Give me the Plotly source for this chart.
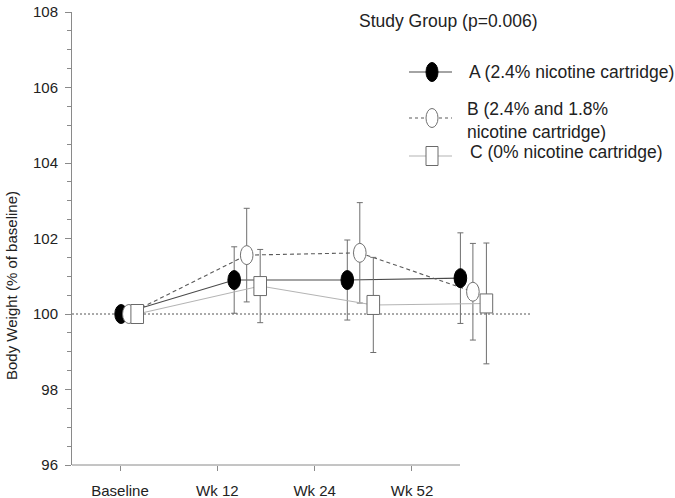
import numpy as np
import plotly.graph_objects as go

# ---------------- data ----------------
timepoints = ["Baseline", "Wk 12", "Wk 24", "Wk 52"]
groups = ["A (2.4% nicotine cartridge)", "B (2.4% and 1.8%<br>nicotine cartridge)", "C (0% nicotine cartridge)"]
mean_A = [100.0, 100.90, 100.90, 100.95]
mean_B = [100.0, 101.56, 101.62, 100.59]
mean_C = [100.0, 100.74, 100.24, 100.28]
err_A = [0.0, 0.88, 1.06, 1.20]
err_B = [0.0, 1.24, 1.33, 1.28]
err_C = [0.0, 0.97, 1.26, 1.60]
legend_title = "Study Group (p=0.006)"
y_title = "Body Weight (% of baseline)"
y_ticks = [96, 98, 100, 102, 104, 106, 108]

# ---------------- layout geometry (page pixels) ----------------
W, H = 675, 498
L, R, T, B = 72, 545, 12, 465            # plot area edges
PX_PER_STEP = 113.1                      # data spacing between timepoints
X0_PX = 121.1                            # pixel of first timepoint
TICK_STEP_PX = 97.33                     # category tick spacing
TICK0_PX = 120.0
AXIS_END_PX = 460                        # x axis line end
REF_END_PX = 532                         # dotted 100% line end

def px2x(p):
    return (p - X0_PX) / PX_PER_STEP

def pxx(p):
    return (p - L) / (R - L)

def pxy(p):
    return (B - p) / (B - T)

FONT = "Liberation Sans, Arial, sans-serif"
TXT = "#222222"

idx = np.arange(len(timepoints), dtype=float)
dodge_px = [0.0, 12.5, 26.0]
time_compress = np.array([0.62, 1.0, 1.0, 1.0])

series = [
    dict(mean=mean_A, err=err_A, line=dict(color="#4a4a4a", width=1.1), mk="ellipse",
         fill="#000000", edge="#000000"),
    dict(mean=mean_B, err=err_B, line=dict(color="#5a5a5a", width=1.1, dash="4px,3px"), mk="ellipse",
         fill="#ffffff", edge="#707070"),
    dict(mean=mean_C, err=err_C, line=dict(color="#b4b4b4", width=1.1), mk="rect",
         fill="#ffffff", edge="#6a6a6a"),
]

fig = go.Figure()
shapes = []

# dotted reference line at 100 %
shapes.append(dict(type="line", xref="paper", yref="y", x0=0, x1=pxx(REF_END_PX), y0=100, y1=100,
                   line=dict(color="#555555", width=1, dash="2px,2px"), layer="below"))
# x axis line (shorter than plot area)
shapes.append(dict(type="line", xref="paper", yref="paper", x0=0, x1=pxx(AXIS_END_PX), y0=0, y1=0,
                   line=dict(color="#8a8a8a", width=1)))

for g, s in enumerate(series):
    xs = idx + dodge_px[g] * time_compress / PX_PER_STEP
    fig.add_trace(go.Scatter(
        x=xs, y=s["mean"], mode="lines", line=s["line"], name=groups[g], showlegend=False,
        error_y=dict(type="data", array=s["err"], color="#6e6e6e", thickness=1, width=3),
        hoverinfo="x+y",
    ))

# markers as ellipses / rectangles drawn at the data points (pixel sized)
for t in range(len(timepoints)):
    for g, s in enumerate(series):
        xv = idx[t] + dodge_px[g] * time_compress[t] / PX_PER_STEP
        shapes.append(dict(
            type="circle" if s["mk"] == "ellipse" else "rect",
            xref="x", yref="y", xsizemode="pixel", ysizemode="pixel",
            xanchor=xv, yanchor=s["mean"][t],
            x0=-6.3, x1=6.3, y0=-9.5, y1=9.5,
            fillcolor=s["fill"], line=dict(color=s["edge"], width=1), layer="above"))

# ---------------- manual legend ----------------
leg_rows_px = [72, 118, 156]
leg_text_px = [(467, 72), (465, 120), (468, 152)]
for g, s in enumerate(series):
    yy = pxy(leg_rows_px[g])
    ln = dict(s["line"])
    if g == 1:
        ln["dash"] = "3px,3px"
    shapes.append(dict(type="line", xref="paper", yref="paper", x0=pxx(409), x1=pxx(452), y0=yy, y1=yy,
                       line=ln))
    shapes.append(dict(
        type="circle" if s["mk"] == "ellipse" else "rect",
        xref="paper", yref="paper", xsizemode="pixel", ysizemode="pixel",
        xanchor=pxx(432), yanchor=yy, x0=-6, x1=6, y0=-9.5, y1=9.5,
        fillcolor=s["fill"], line=dict(color=s["edge"], width=1)))

annotations = []
annotations.append(dict(text=legend_title, xref="paper", yref="paper", x=pxx(357), y=pxy(21),
                        xanchor="left", yanchor="middle", showarrow=False,
                        font=dict(family=FONT, size=17.5, color=TXT)))
for g in range(len(groups)):
    tx, ty = leg_text_px[g]
    annotations.append(dict(text=groups[g], xref="paper", yref="paper", x=pxx(tx), y=pxy(ty),
                            xanchor="left", yanchor="middle", align="left", showarrow=False,
                            font=dict(family=FONT, size=17.5, color=TXT)))
annotations.append(dict(text=y_title, xref="paper", yref="paper", x=pxx(11), y=pxy(286),
                        xanchor="center", yanchor="middle", textangle=-90, showarrow=False,
                        font=dict(family=FONT, size=15, color=TXT)))

tickvals = [px2x(TICK0_PX + TICK_STEP_PX * i) for i in range(len(timepoints))]

fig.update_layout(
    width=W, height=H,
    margin=dict(l=L, r=W - R, t=T, b=H - B, pad=0),
    paper_bgcolor="white", plot_bgcolor="white",
    shapes=shapes, annotations=annotations, showlegend=False,
    xaxis=dict(range=[px2x(L), px2x(R)], tickvals=tickvals, ticktext=timepoints,
               showline=False, showgrid=False, zeroline=False, ticks="outside", ticklen=5,
               tickcolor="#8a8a8a", tickwidth=1, ticklabelstandoff=7,
               tickfont=dict(family=FONT, size=15, color=TXT), automargin=False),
    yaxis=dict(range=[96, 108], tickvals=y_ticks, showline=True, linecolor="#8a8a8a", linewidth=1,
               showgrid=False, zeroline=False, ticks="outside", ticklen=6, tickcolor="#8a8a8a",
               ticklabelstandoff=4,
               tickfont=dict(family=FONT, size=15, color=TXT), automargin=False,
               minor=dict(dtick=0.5, ticks="outside", ticklen=4, tickcolor="#8a8a8a", showgrid=False)),
)

fig.write_html(
    "out.html",
    config={"displayModeBar": False},
    post_script="document.body.style.margin='0px';document.documentElement.style.overflow='hidden';",
)
